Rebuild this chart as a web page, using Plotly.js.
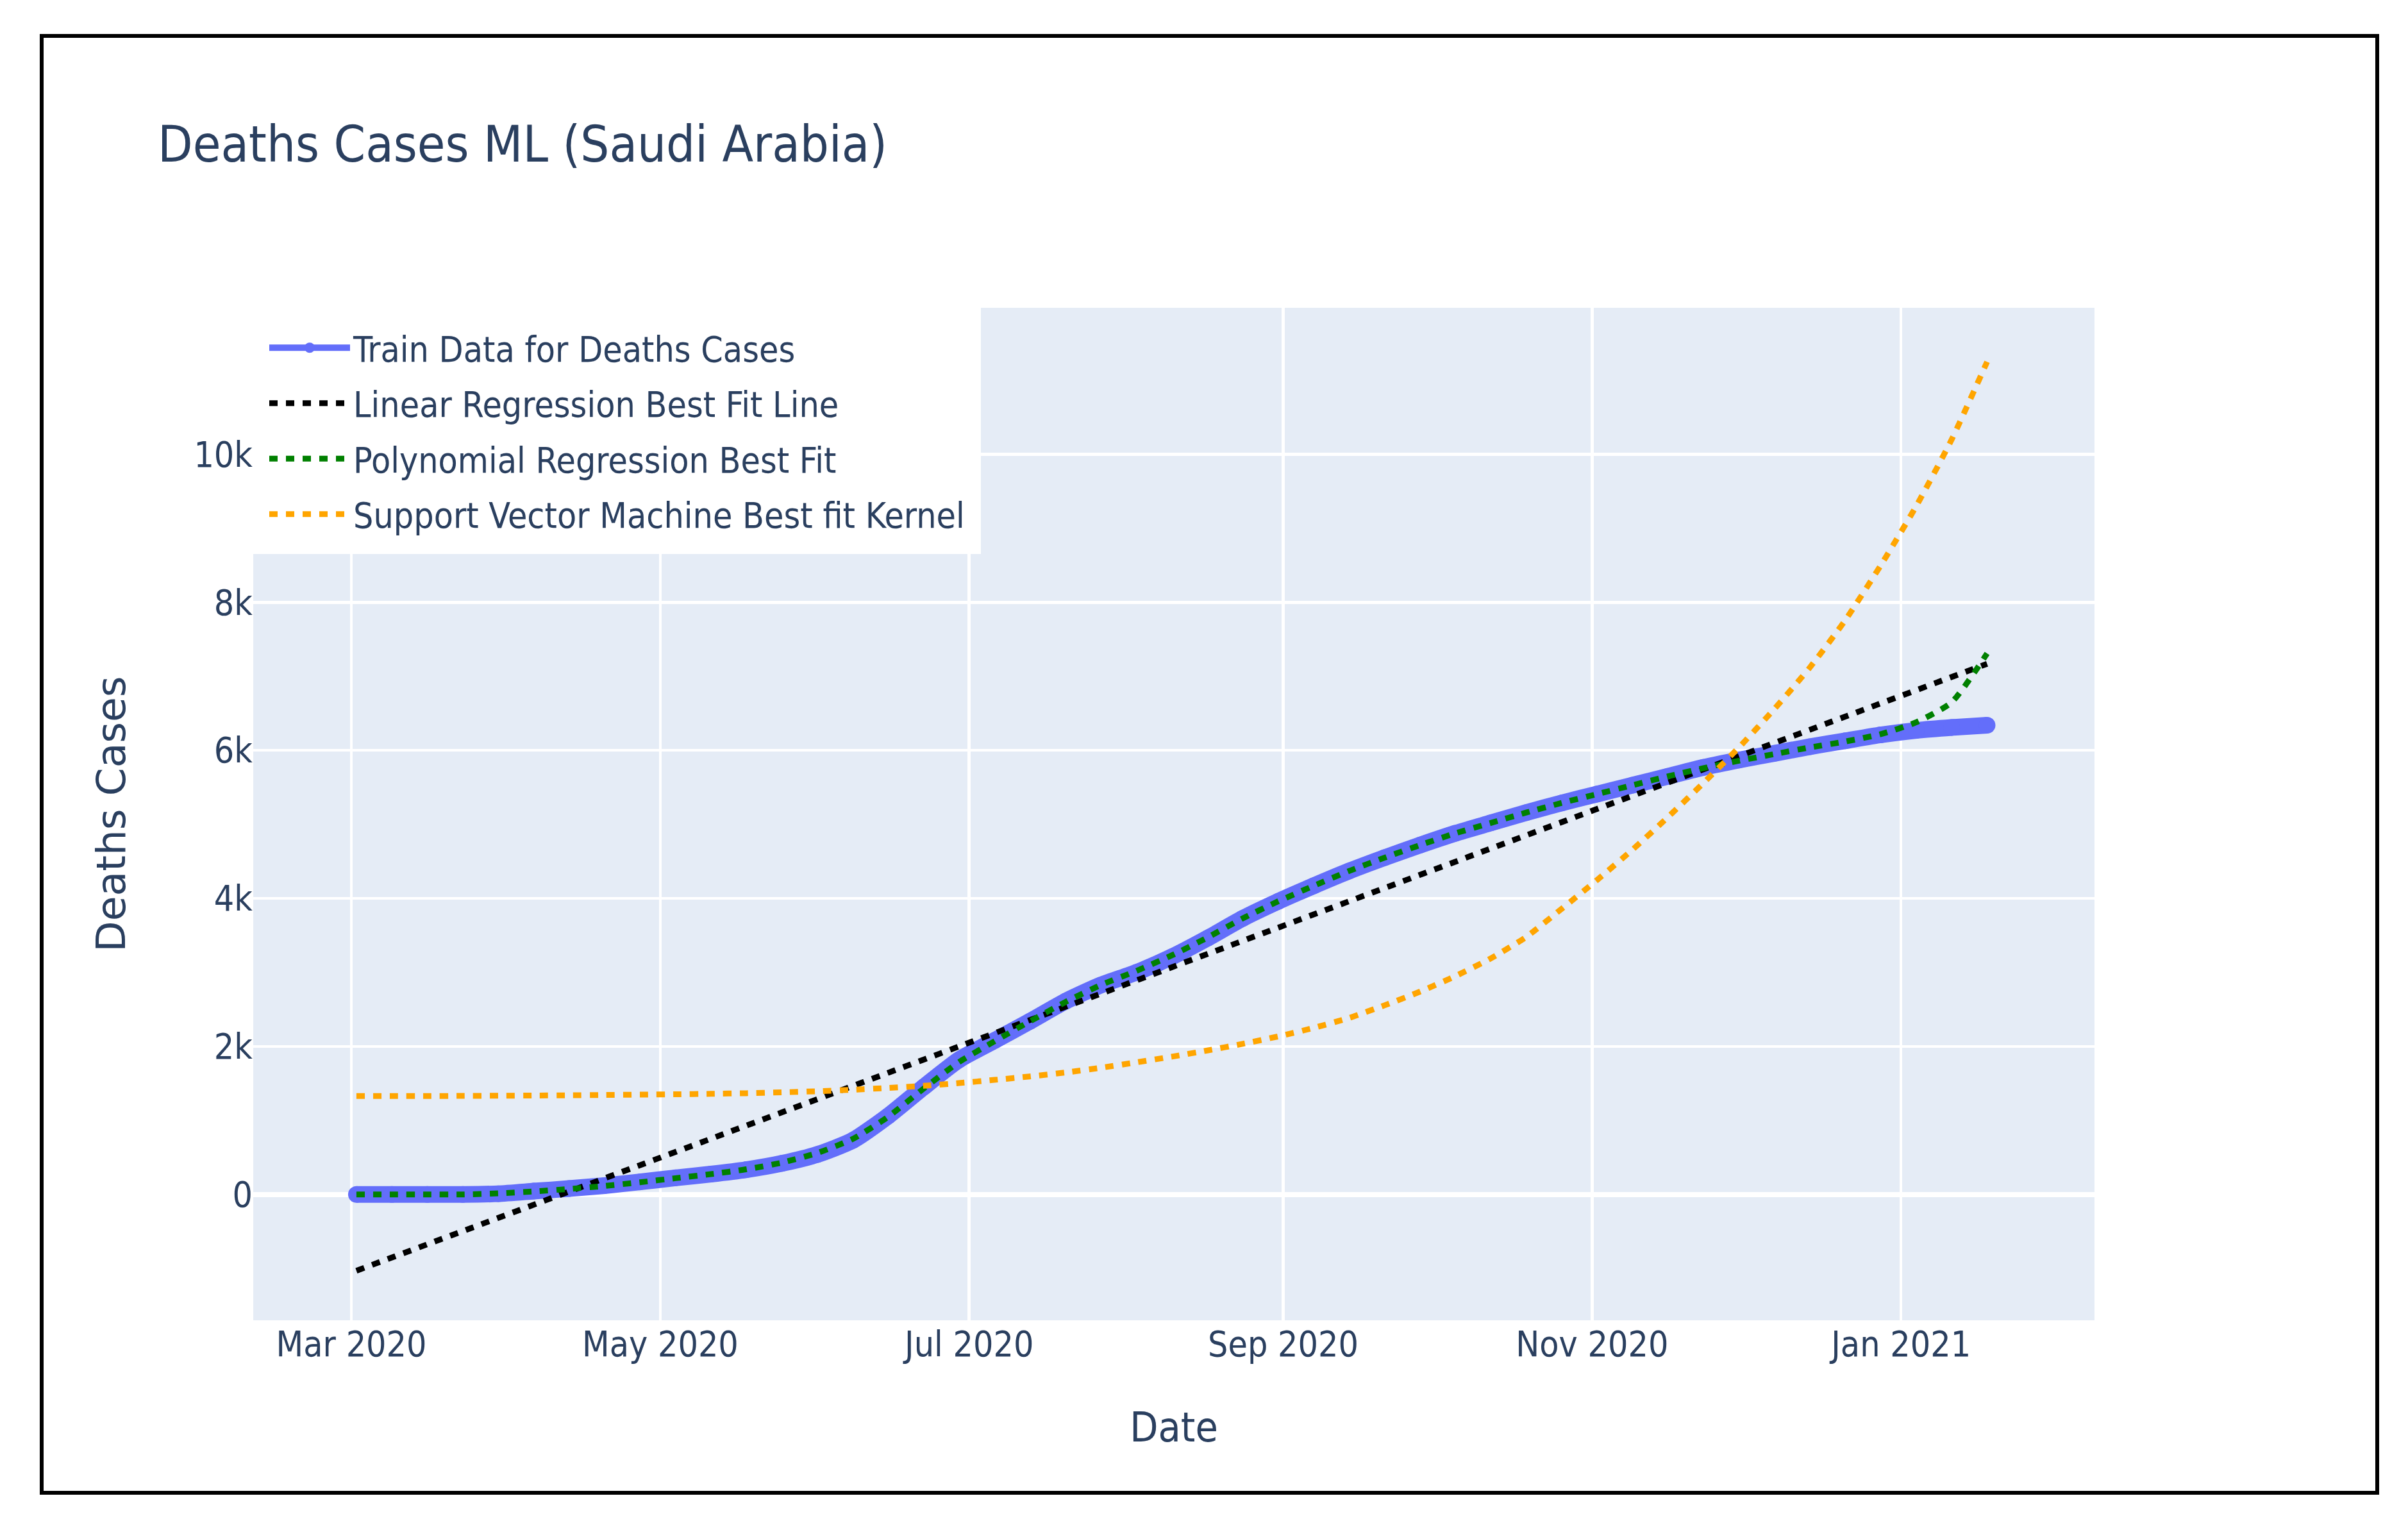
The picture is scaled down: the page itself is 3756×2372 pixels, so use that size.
<!DOCTYPE html>
<html>
<head>
<meta charset="utf-8">
<script src="https://cdn.plot.ly/plotly-3.0.1.min.js"></script>
<style>
  html, body { margin: 0; padding: 0; background: #ffffff; overflow: hidden; }
  #chart { width: 3756px; height: 2372px; }
  #frame { position: absolute; left: 62px; top: 53px; width: 3649px; height: 2278px;
           border: 6px solid #000; box-sizing: border-box; pointer-events: none; }
</style>
</head>
<body>
<div id="chart"></div>
<div id="frame"></div>
<script>
// ---- data ----
const dates = ['2020-03-02','2020-03-09','2020-03-16','2020-03-23','2020-03-30','2020-04-06','2020-04-13',
  '2020-04-20','2020-04-27','2020-05-04','2020-05-11','2020-05-18','2020-05-25','2020-06-01','2020-06-08',
  '2020-06-15','2020-06-22','2020-06-29','2020-07-06','2020-07-13','2020-07-20','2020-07-27','2020-08-03',
  '2020-08-10','2020-08-17','2020-08-24','2020-08-31','2020-09-07','2020-09-14','2020-09-21','2020-09-28',
  '2020-10-05','2020-10-12','2020-10-19','2020-10-26','2020-11-02','2020-11-09','2020-11-16','2020-11-23',
  '2020-11-30','2020-12-07','2020-12-14','2020-12-21','2020-12-28','2021-01-04','2021-01-11','2021-01-18'];

const trainDeaths = [0,0,0,0,10,45,80,120,170,225,275,335,420,540,730,1060,1450,1820,2080,2340,2610,2830,
  3000,3210,3460,3730,3960,4170,4370,4550,4720,4880,5020,5160,5290,5410,5530,5650,5770,5870,5960,6050,6130,
  6210,6270,6310,6340];

const linearDates = ['2020-03-02','2021-01-18'];
const linearFit = [-1030, 7170];

const polyFit = [0,0,0,0,15,40,75,115,165,220,275,340,430,560,750,1050,1430,1790,2070,2340,2600,2830,3020,
  3230,3470,3730,3960,4170,4370,4550,4720,4880,5020,5160,5290,5410,5530,5650,5760,5860,5950,6040,6120,6220,
  6380,6650,7310];

const svmFit = [1330,1330,1330,1332,1334,1337,1340,1344,1349,1354,1360,1368,1380,1395,1415,1440,1468,1505,
  1548,1595,1648,1712,1785,1862,1945,2035,2135,2250,2385,2555,2740,2950,3190,3480,3860,4250,4660,5100,5560,
  6040,6560,7120,7760,8500,9300,10200,11250];

const names = ['Train Data for Deaths Cases','Linear Regression Best Fit Line',
  'Polynomial Regression Best Fit','Support Vector Machine Best fit Kernel'];

// ---- styling ----
const COND = 'DejaVu Sans Condensed, DejaVu Sans, sans-serif';
const TXT = '#2a3f5f';
const DOT = '13px,13px';

const traces = [
  {x: dates, y: trainDeaths, name: names[0], mode: 'lines+markers', legendgroup: 'a',
   line: {color: '#636efa', width: 26, shape: 'spline', smoothing: 0.6}, marker: {color: '#636efa', size: 26}},
  {x: linearDates, y: linearFit, name: names[1], mode: 'lines', legendgroup: 'b',
   line: {color: 'black', width: 9, dash: DOT}},
  {x: dates, y: polyFit, name: names[2], mode: 'lines', legendgroup: 'c',
   line: {color: 'green', width: 9, dash: DOT, shape: 'spline', smoothing: 0.6}},
  {x: dates, y: svmFit, name: names[3], mode: 'lines', legendgroup: 'd',
   line: {color: 'orange', width: 9, dash: DOT, shape: 'spline', smoothing: 0.6}}
];

const layout = {
  width: 3756, height: 2372,
  margin: {l: 395, r: 489, t: 480, b: 313, pad: 0},
  paper_bgcolor: '#ffffff',
  plot_bgcolor: '#E5ECF6',
  font: {family: COND, size: 55, color: TXT},
  title: {text: 'Deaths Cases ML (Saudi Arabia)', xref: 'container', yref: 'container',
          x: 0.0655, xanchor: 'left', y: 0.9056, yanchor: 'middle',
          font: {family: COND, size: 79, color: TXT}},
  xaxis: {type: 'date', range: ['2020-02-10 15:00', '2021-02-08 05:00'],
          tick0: '2020-03-01', dtick: 'M2', tickformat: '%b %Y',
          gridcolor: '#ffffff', gridwidth: 4.5, zeroline: false, showline: false, ticks: '',
          tickfont: {family: COND, size: 55, color: TXT},
          title: {text: 'Date', font: {family: COND, size: 64, color: TXT}, standoff: 76}},
  yaxis: {range: [-1700, 11980], tick0: 0, dtick: 2000,
          gridcolor: '#ffffff', gridwidth: 4.5, zeroline: true, zerolinecolor: '#ffffff', zerolinewidth: 8,
          showline: false, ticks: '',
          tickfont: {family: COND, size: 55, color: TXT},
          title: {text: 'Deaths Cases', font: {family: 'DejaVu Sans, sans-serif', size: 63, color: TXT}, standoff: 86}},
  legend: {x: 0, y: 1, xanchor: 'left', yanchor: 'top', bgcolor: '#ffffff',
           bordercolor: '#ffffff', borderwidth: 20,
           font: {family: COND, size: 55, color: TXT},
           traceorder: 'grouped', tracegroupgap: 12, itemwidth: 126},
  showlegend: true
};

Plotly.newPlot('chart', traces, layout, {displayModeBar: false, staticPlot: true});
</script>
</body>
</html>
